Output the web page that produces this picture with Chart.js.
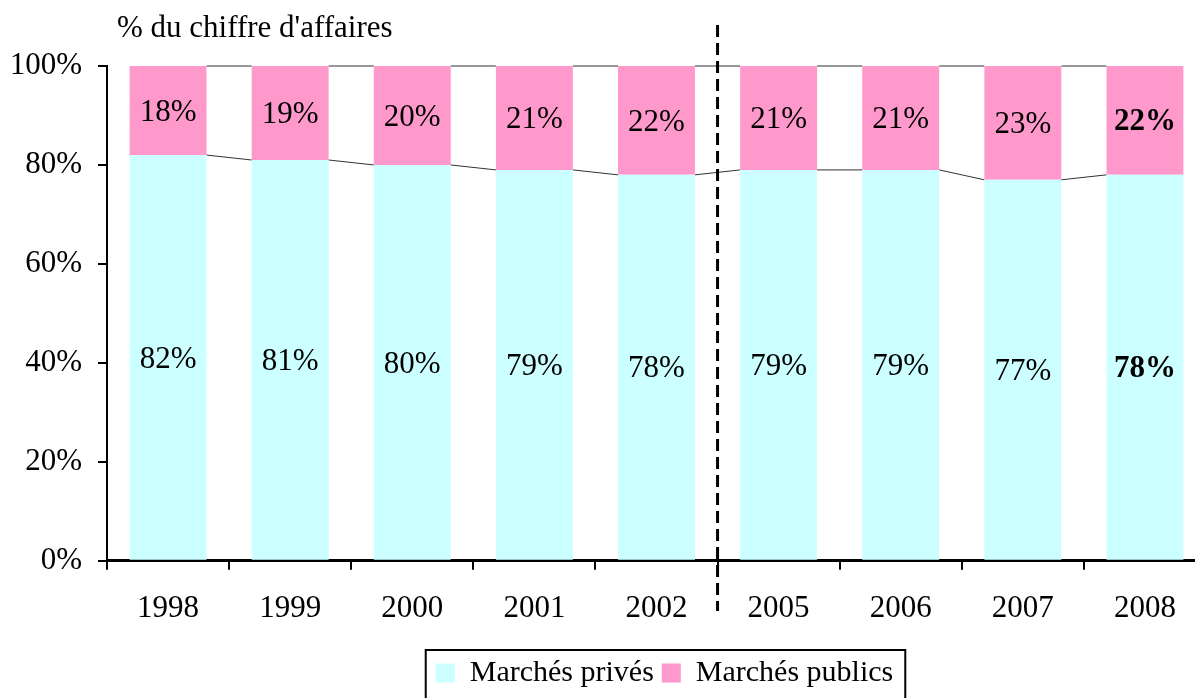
<!DOCTYPE html>
<html>
<head>
<meta charset="utf-8">
<script src="https://cdn.jsdelivr.net/npm/chart.js@4"></script>
<style>
  html, body { margin: 0; padding: 0; background: #fff; overflow: hidden; }
  #wrap { position: relative; width: 1206px; height: 698px; }
</style>
</head>
<body>
<div id="wrap"><canvas id="chart1"></canvas></div>
<script>
// data
let years = ["1998", "1999", "2000", "2001", "2002", "2005", "2006", "2007", "2008"]
let prives = [82, 81, 80, 79, 78, 79, 79, 77, 78]
let publics = [18, 19, 20, 21, 22, 21, 21, 23, 22]
let yTicks = [0, 20, 40, 60, 80, 100]

let serif = "'Liberation Serif', 'Times New Roman', serif"

// series lines, labels, dashed separator and title
let extras = {
  id: 'extras',
  afterLayout(chart) {
    // nudge legend a bit to the right, like the original
    let lg = chart.legend
    lg.left += 8
    lg.right += 8
    if (lg.legendHitBoxes) lg.legendHitBoxes.forEach(b => { b.left += 8 })
  },
  beforeDatasetsDraw(chart) {
    let ctx = chart.ctx
    let m0 = chart.getDatasetMeta(0).data
    let m1 = chart.getDatasetMeta(1).data
    ctx.save()
    ctx.strokeStyle = '#333'
    ctx.lineWidth = 1
    for (let i = 0; i < m0.length - 1; i++) {
      let a = m0[i], b = m0[i + 1]
      let ra = a.x + a.width / 2, lb = b.x - b.width / 2
      ctx.beginPath()
      ctx.moveTo(ra, a.y); ctx.lineTo(lb, b.y)
      ctx.moveTo(ra, m1[i].y); ctx.lineTo(lb, m1[i + 1].y)
      ctx.stroke()
    }
    ctx.restore()
  },
  afterDatasetsDraw(chart) {
    let ctx = chart.ctx
    ctx.save()
    ctx.fillStyle = '#000'
    ctx.textAlign = 'center'
    ctx.textBaseline = 'middle'
    chart.data.datasets.forEach((ds, d) => {
      chart.getDatasetMeta(d).data.forEach((bar, i) => {
        let bold = i === years.length - 1
        ctx.font = (bold ? 'bold ' : '') + '31px ' + serif
        ctx.fillText(ds.data[i] + '%', bar.x, (bar.y + bar.base) / 2 + 2)
      })
    })
    ctx.restore()
  },
  afterDraw(chart) {
    let ctx = chart.ctx
    let m0 = chart.getDatasetMeta(0).data
    let xs = (m0[4].x + m0[5].x) / 2
    ctx.save()
    ctx.strokeStyle = '#000'
    ctx.lineWidth = 3
    ctx.setLineDash([12, 6])
    ctx.beginPath()
    ctx.moveTo(xs, 25)
    ctx.lineTo(xs, 611)
    ctx.stroke()
    ctx.setLineDash([])

    // title
    ctx.fillStyle = '#000'
    ctx.font = '31px ' + serif
    ctx.textAlign = 'left'
    ctx.textBaseline = 'middle'
    ctx.fillText("% du chiffre d'affaires", chart.chartArea.left + 10, 29)

    // legend frame
    let lg = chart.legend
    let boxes = lg.legendHitBoxes
    if (boxes && boxes.length) {
      let minX = Math.min(...boxes.map(b => b.left))
      let maxX = Math.max(...boxes.map(b => b.left + b.width))
      ctx.lineWidth = 2
      ctx.strokeStyle = '#000'
      ctx.strokeRect(minX - 10, lg.top, maxX - minX + 22, 80)
    }
    ctx.restore()
  }
}

new Chart(document.getElementById("chart1"), {
  type: 'bar',
  data: {
    labels: years,
    datasets: [
      {
        label: "Marchés privés",
        backgroundColor: "#CCFFFF",
        data: prives,
        barPercentage: 0.63,
        categoryPercentage: 1
      },
      {
        label: "Marchés publics",
        backgroundColor: "#FF99CC",
        data: publics,
        barPercentage: 0.63,
        categoryPercentage: 1
      }
    ]
  },
  plugins: [extras],
  options: {
    responsive: true,
    maintainAspectRatio: false,
    animation: false,
    layout: { padding: { top: 66, left: 0, right: 0, bottom: 0 } },
    plugins: {
      title: { display: false },
      tooltip: { enabled: false },
      legend: {
        position: 'bottom',
        fullSize: false,
        labels: {
          color: '#000',
          font: { family: serif, size: 30 },
          boxWidth: 19,
          boxHeight: 19,
          padding: 8
        }
      }
    },
    scales: {
      x: {
        stacked: true,
        grid: { drawOnChartArea: false, drawTicks: true, tickLength: 9, color: '#000', lineWidth: 2 },
        border: { color: '#000', width: 3 },
        ticks: { color: '#000', font: { family: serif, size: 31 }, padding: 20, maxRotation: 0 },
        afterFit(scale) { scale.height += 3 }
      },
      y: {
        stacked: true,
        min: 0,
        max: 100,
        afterBuildTicks(scale) { scale.ticks = yTicks.map(v => ({ value: v })) },
        grid: { drawOnChartArea: false, drawTicks: true, tickLength: 9, color: '#000', lineWidth: 2 },
        border: { color: '#000', width: 2 },
        ticks: { color: '#000', font: { family: serif, size: 31 }, padding: 16, callback: v => v + '%' },
        afterFit(scale) { scale.width = 107 }
      }
    }
  }
});
</script>
</body>
</html>
